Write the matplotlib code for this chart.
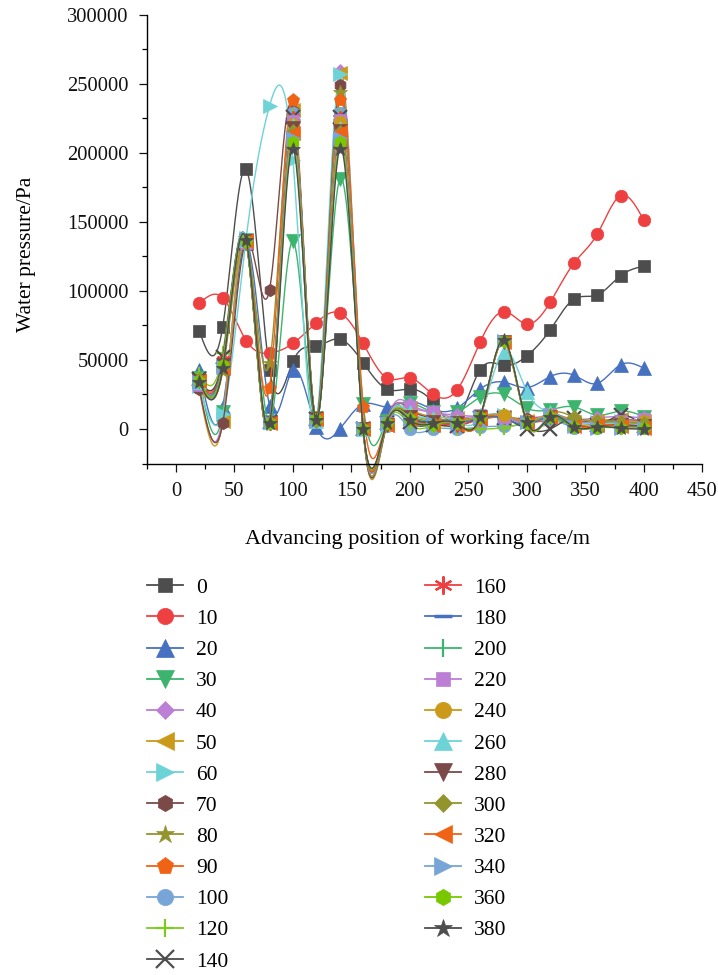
import numpy as np
import matplotlib
matplotlib.use('Agg')
import matplotlib.pyplot as plt
import matplotlib.ticker as ticker
from matplotlib.lines import Line2D

plt.rcParams['font.family'] = ['Liberation Serif', 'DejaVu Serif']

# advancing position of the working face (m)
pos = [20, 40, 60, 80, 100, 120, 140, 160, 180, 200, 220, 240, 260, 280, 300, 320, 340, 360, 380, 400]

# water pressure (Pa) for each monitoring point
p0   = [71000, 74000, 188000, 43000, 49000, 60000, 65000, 48000, 29000, 29000, 19000, 7000, 43000, 46000, 53000, 72000, 94000, 97000, 111000, 118000]
p10  = [91000, 95000, 64000, 55000, 62000, 77000, 84000, 62000, 37000, 37000, 25000, 28000, 63000, 85000, 76000, 92000, 120000, 141000, 169000, 151000]
p20  = [43000, 16000, 135000, 17000, 43000, 1500, 0, 18000, 16000, 20000, 14000, 15000, 29000, 34000, 30000, 38000, 39000, 33000, 46500, 44000]
p30  = [37000, 12000, 137000, 5000, 136000, 8000, 181000, 18000, 6000, 19000, 12000, 12000, 23000, 25000, 15000, 14000, 16000, 10000, 13000, 9000]
p40  = [30000, 9000, 136000, 6000, 232000, 8000, 259000, 2000, 4000, 18000, 12000, 10000, 9000, 8000, 8000, 9000, 7000, 8000, 9000, 8000]
p50  = [28000, 6000, 135000, 5000, 231000, 7000, 258000, 1000, 3000, 15000, 9000, 8000, 7000, 9000, 6000, 8000, 5000, 6000, 7000, 6000]
p60  = [31000, 11000, 138000, 234000, 195000, 7000, 257000, 1000, 3000, 12000, 7000, 6000, 8000, 10000, 5000, 7000, 4000, 5000, 6000, 5000]
p70  = [29000, 4000, 136000, 101000, 230000, 7000, 249000, 0, 4000, 14000, 8000, 6000, 9000, 9000, 7000, 9000, 6000, 5000, 7000, 5000]
p80  = [33000, 42000, 135000, 48000, 226000, 6000, 244000, 1000, 3000, 10000, 6000, 5000, 8000, 8000, 6000, 8000, 3000, 4000, 5000, 4000]
p90  = [35000, 50000, 136000, 30000, 238000, 8000, 238000, 16000, 5000, 8000, 4000, 5000, 7000, 9000, 5000, 6000, 3000, 2000, 4000, 3000]
p100 = [34000, 48000, 137000, 5000, 229000, 7000, 229000, 1000, 2000, 0, 0, 0, 1500, 2000, 4000, 7000, 1000, 1000, 2000, 1000]
p120 = [40000, 55000, 136000, 4000, 227000, 6000, 227000, 0, 3000, 3000, 2000, 1000, 0, 1000, 5000, 8000, 2000, 1000, 1000, 1000]
p140 = [36000, 52000, 135000, 5000, 226000, 7000, 226000, 0, 4000, 5000, 3000, 2000, 8000, 8000, 0, 0, 8000, 3000, 10000, 2000]
p160 = [35000, 50000, 136000, 4000, 225000, 6000, 225000, 1000, 4000, 8000, 4000, 3000, 7000, 9000, 4000, 10000, 3000, 2000, 3000, 2000]
p180 = [34000, 49000, 137000, 5000, 224000, 7000, 224000, 0, 3000, 9000, 5000, 4000, 8000, 8000, 3000, 9000, 2000, 1000, 2000, 1000]
p200 = [33000, 47000, 136000, 4000, 223000, 6000, 223000, 1000, 4000, 10000, 6000, 5000, 9000, 10000, 4000, 10000, 2000, 2000, 1000, 1000]
p220 = [32000, 46000, 135000, 5000, 223000, 7000, 224000, 0, 4000, 16000, 12000, 8000, 10000, 9000, 5000, 11000, 6000, 5000, 6000, 7000]
p240 = [33000, 45000, 136000, 4000, 221000, 7000, 222000, 1000, 3000, 11000, 7000, 6000, 9000, 10000, 6000, 10000, 7000, 6000, 5000, 6000]
p260 = [34000, 47000, 137000, 5000, 220000, 6000, 218000, 0, 4000, 12000, 8000, 6000, 10000, 56000, 27000, 12000, 5000, 4000, 4000, 3000]
p280 = [35000, 46000, 136000, 4000, 218000, 7000, 216000, 0, 3000, 9000, 5000, 4000, 9000, 63000, 4000, 9000, 3000, 2000, 3000, 2000]
p300 = [36000, 45000, 135000, 5000, 216000, 6000, 215000, 1000, 4000, 8000, 4000, 4000, 8000, 64000, 5000, 10000, 8500, 6000, 5000, 4000]
p320 = [35000, 44000, 136000, 4000, 214000, 7000, 215000, 0, 3000, 7000, 3000, 3000, 8000, 63000, 4000, 9000, 2000, 3000, 2000, 1000]
p340 = [34000, 45000, 137000, 5000, 211000, 6000, 211000, 1000, 4000, 7000, 4000, 4000, 9000, 64000, 5000, 10000, 2000, 1000, 1000, 1000]
p360 = [35000, 46000, 136000, 4000, 208000, 7000, 208000, 0, 4000, 7000, 3000, 4000, 9000, 64000, 4000, 9000, 1500, 1000, 1000, 500]
p380 = [34000, 44000, 137000, 4500, 203000, 6500, 203000, 0, 4000, 6500, 4000, 4000, 9000, 64500, 5000, 9000, 1500, 1500, 500, 0]

labels = ['0', '10', '20', '30', '40', '50', '60', '70', '80', '90', '100', '120', '140',
          '160', '180', '200', '220', '240', '260', '280', '300', '320', '340', '360', '380']
series = [p0, p10, p20, p30, p40, p50, p60, p70, p80, p90, p100, p120, p140,
          p160, p180, p200, p220, p240, p260, p280, p300, p320, p340, p360, p380]

black, red, blue, green = '#4D4D4D', '#EE4040', '#4670C0', '#3DB46D'
purple, gold, cyan, brown = '#BC7FD5', '#CC9A1A', '#6DD3D6', '#7B4A48'
olive, orange, lblue, lime = '#94942F', '#F06214', '#78A5D7', '#7CCB1E'

colors = [black, red, blue, green, purple, gold, cyan, brown, olive, orange, lblue, lime, black,
          red, blue, green, purple, gold, cyan, brown, olive, orange, lblue, '#78C800', black]
markers = ['s', 'o', '^', 'v', 'D', '<', '>', 'h', '*', 'p', 'o', '+', 'x',
           (6, 2, 0), '_', '|', 's', 'o', '^', 'v', 'D', '<', '>', 'h', '*']
# marker size per shape (pt)
msize = {'s': 8, 'o': 9, '^': 10.5, 'v': 10.5, '<': 10.5, '>': 10.5, 'D': 7, 'h': 9,
         '*': 10.5, 'p': 9.5, '+': 10, 'x': 10, '_': 10, '|': 10}


def natural_spline(x, y, n=40):
    x = np.asarray(x, float)
    y = np.asarray(y, float)
    k = len(x)
    h = np.diff(x)
    A = np.zeros((k, k))
    b = np.zeros(k)
    A[0, 0] = A[-1, -1] = 1
    for i in range(1, k - 1):
        A[i, i - 1] = h[i - 1]
        A[i, i] = 2 * (h[i - 1] + h[i])
        A[i, i + 1] = h[i]
        b[i] = 6 * ((y[i + 1] - y[i]) / h[i] - (y[i] - y[i - 1]) / h[i - 1])
    M = np.linalg.solve(A, b)
    xs = np.linspace(x[0], x[-1], n * (k - 1) + 1)
    idx = np.clip(np.searchsorted(x, xs) - 1, 0, k - 2)
    x0, x1 = x[idx], x[idx + 1]
    hh = x1 - x0
    t0, t1 = x1 - xs, xs - x0
    ys = (M[idx] * t0 ** 3 + M[idx + 1] * t1 ** 3) / (6 * hh) \
        + (y[idx] / hh - M[idx] * hh / 6) * t0 + (y[idx + 1] / hh - M[idx + 1] * hh / 6) * t1
    return xs, ys


fig = plt.figure(figsize=(7.18, 9.75), dpi=100)
ax = fig.add_axes([0.2043, 0.5246, 0.7741, 0.4603])

handles = []
for lab, vals, c, m in zip(labels, series, colors, markers):
    ms = msize.get(m, 10) if isinstance(m, str) else 10
    mew = 1.6 if m in ('+', 'x', '|', '_') or not isinstance(m, str) else 0.5
    if m == '_':
        mew = 2.5
    xs, ys = natural_spline(pos, vals)
    ax.plot(xs, ys, color=c, lw=1.0, clip_on=False)
    ax.plot(pos, vals, ls='none', marker=m, ms=ms, color=c, mec=c, mew=mew, clip_on=False)
    handles.append(Line2D([], [], color=c, lw=1.3, marker=m, ms=ms * 1.3, mec=c, mew=mew))

ax.set_xlim(-25, 450)
ax.set_ylim(-25000, 300000)
ax.xaxis.set_major_locator(ticker.MultipleLocator(50))
ax.xaxis.set_minor_locator(ticker.MultipleLocator(25))
ax.yaxis.set_major_locator(ticker.MultipleLocator(50000))
ax.yaxis.set_minor_locator(ticker.MultipleLocator(25000))
ax.set_xticks(range(0, 451, 50))
for sp in ['top', 'right']:
    ax.spines[sp].set_visible(False)
for sp in ['left', 'bottom']:
    ax.spines[sp].set_linewidth(1.0)
ax.tick_params(which='major', direction='out', length=5.5, width=0.9, labelsize=14.8, pad=7.5, colors='#111111')
ax.tick_params(which='minor', direction='out', length=3.3, width=0.9)

ax.set_xlabel('Advancing position of working face/m', fontsize=16)
ax.xaxis.set_label_coords(0.487, -0.146)
ax.xaxis.label.set_va('top')
ax.set_ylabel('Water pressure/Pa', fontsize=15.5)
ax.yaxis.set_label_coords(-0.2, 0.465)

fig.legend(handles, labels, ncol=2, loc='upper left', bbox_to_anchor=(0.2047, 0.4075),
           frameon=False, fontsize=15.5, handlelength=1.67, handletextpad=0.6,
           columnspacing=9.16, labelspacing=0.515, borderpad=0, borderaxespad=0)

plt.savefig('out.png', dpi=100)
